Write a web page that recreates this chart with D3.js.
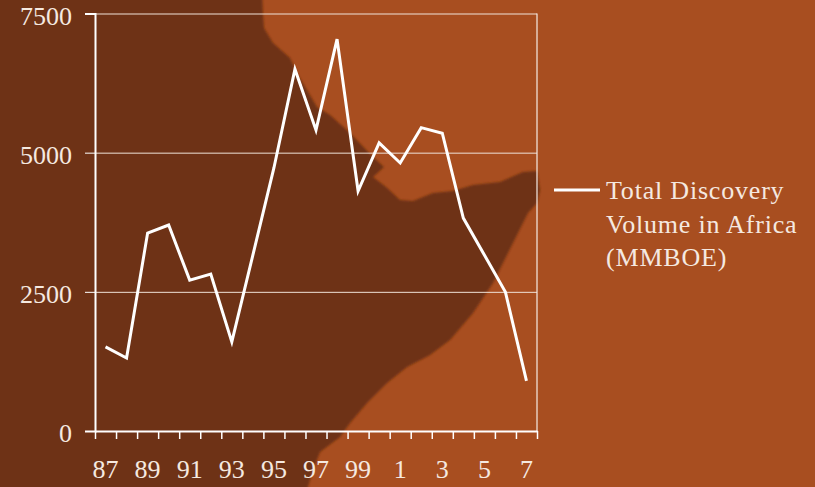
<!DOCTYPE html>
<meta charset="utf-8">
<style>
    body { margin: 0; background: #a84e20; }
    svg { display: block; }
    text { font-family: "Liberation Serif", serif; fill: #f5e9e0; }
    .axis text { font-size: 26px; }
    .axis path, .axis line { stroke: #fff; fill: none; }
    .grid line { stroke: #f0e2d8; stroke-width: 1; }
    .grid path { display: none; }
</style>
<body>
<svg class="chart"></svg>

<script src="https://d3js.org/d3.v7.min.js"></script>
<script>

// Chart data
var years = ["87","88","89","90","91","92","93","94","95","96","97","98","99","0","1","2","3","4","5","6","7"];
var discovery = [1510,1310,3555,3700,2710,2820,1600,3160,4725,6500,5405,7040,4310,5175,4815,5450,5350,3825,3160,2495,900];
var yTicks = [0,2500,5000,7500];
var legendLines = ["Total Discovery","Volume in Africa","(MMBOE)"];

// Background map outline (Horn of Africa), page pixels. Runs off the page so the blur leaves no edge
var coast = [[-10,-10],[262,-10],[263,14],[264,28],[273,43],[290,58],[298,75],[317,107],[330,115],[350,133],
    [373,157],[384,167],[373,177],[386,187],[400,200],[413,201],[433,193],[453,191],[473,185],[500,182],
    [523,172],[537,171],[540,190],[537,203],[528,213],[513,243],[493,283],[473,313],[450,340],[430,355],
    [407,367],[387,383],[367,403],[350,423],[340,437],[320,452],[313,470],[305,497],[-10,497]];

var margin = { top: 13.5, right: 278, bottom: 56, left: 95 };
var width = 815 - margin.left - margin.right;
var height = 487 - margin.top - margin.bottom;

var svg = d3.select(".chart").attr("width",815).attr("height",487);

// Blurred a little so the map edge looks like the scaled picture
svg.append("filter").attr("id","soft")
    .append("feGaussianBlur").attr("stdDeviation",1.2);

svg.append("rect").attr("width",815).attr("height",487).attr("fill","#a84e20");
svg.append("path")
    .attr("d",d3.line().curve(d3.curveLinear)(coast))
    .attr("fill","#6e3212")
    .attr("filter","url(#soft)");

var chart = svg.append("g")
    .attr("transform","translate(" + margin.left + "," + margin.top + ")");

var x = d3.scaleBand().domain(years).range([0,width]);
var xEdge = d3.scaleLinear().domain([0,years.length]).range([0,width]);
var y = d3.scaleLinear().domain([0,7500]).range([height,0]);

// Gridlines
chart.append("g")
    .attr("class","grid")
    .call(d3.axisLeft(y).tickValues(yTicks).tickSize(-width).tickFormat(""));

// Vertical axis with labels
var yAxis = chart.append("g")
    .attr("class","axis")
    .call(d3.axisLeft(y).tickValues(yTicks).tickSize(10).tickPadding(13).tickFormat(d3.format("d")));
yAxis.selectAll("text").attr("dy","0.42em");
yAxis.select(".domain").attr("stroke-width",2);
yAxis.selectAll("line").attr("stroke-width",1).attr("stroke","#f0e2d8");

// Right hand frame
chart.append("line")
    .attr("x1",width).attr("x2",width)
    .attr("y1",0).attr("y2",height)
    .attr("stroke","#f5ece6").attr("stroke-width",1.2);

// Horizontal axis: tick marks on category edges
var xTicks = chart.append("g")
    .attr("class","axis")
    .attr("transform","translate(0," + height + ")")
    .call(d3.axisBottom(xEdge).tickValues(d3.range(years.length + 1)).tickSize(8).tickSizeOuter(0).tickFormat(""));
xTicks.select(".domain").attr("stroke-width",2);
xTicks.selectAll("line").attr("stroke-width",1.5);

// Horizontal axis: labels on every second category
var xLabels = chart.append("g")
    .attr("class","axis")
    .attr("transform","translate(0," + height + ")")
    .call(d3.axisBottom(x).tickValues(years.filter(function(d,i) { return i % 2 == 0; })).tickSize(0).tickPadding(29));
xLabels.select(".domain").remove();

// Series line
var line = d3.line()
    .x(function(d,i) { return x(years[i]) + x.bandwidth()/2; })
    .y(function(d) { return y(d); });

chart.append("path")
    .datum(discovery)
    .attr("d",line)
    .attr("fill","none")
    .attr("stroke","#fff")
    .attr("stroke-width",3)
    .attr("stroke-linejoin","miter");

// Legend
var legend = svg.append("g").attr("transform","translate(554,190)");
legend.append("line")
    .attr("x1",0).attr("x2",46)
    .attr("stroke","#fff").attr("stroke-width",3);
legend.selectAll("text")
    .data(legendLines)
  .enter().append("text")
    .attr("x",52)
    .attr("y",function(d,i) { return 9 + i*33.5; })
    .style("font-size","26px")
    .style("letter-spacing","0.8px")
    .text(function(d) { return d; });

</script>
</body>
